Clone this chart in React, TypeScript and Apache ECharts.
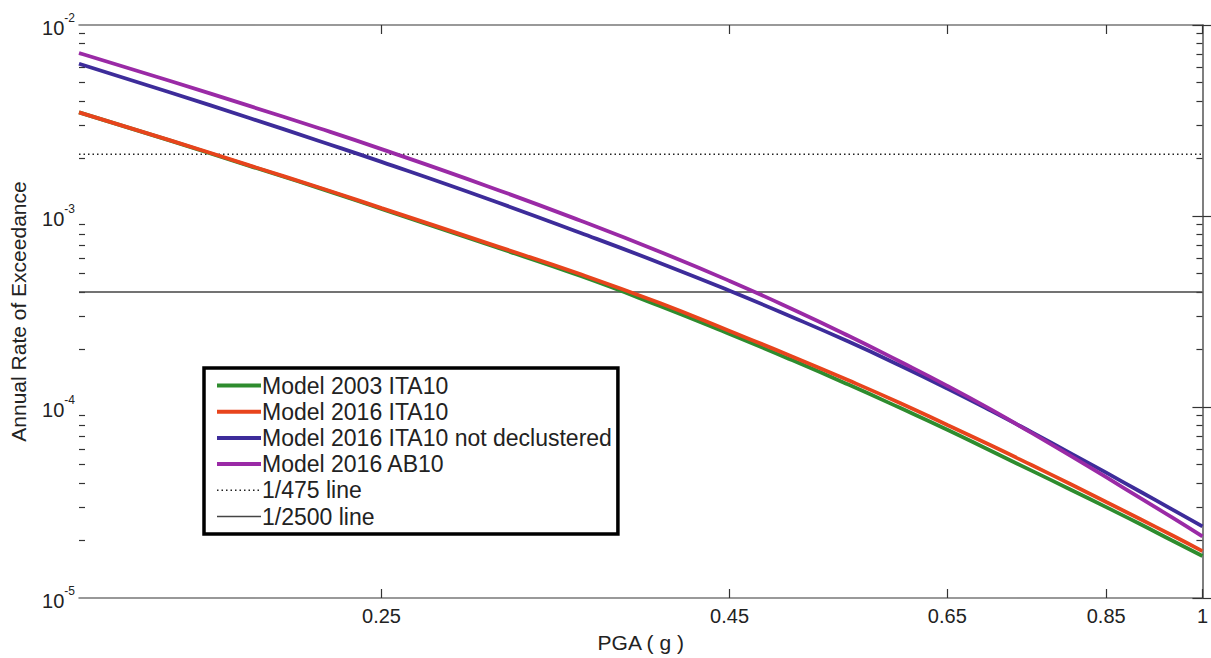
import React, { useEffect, useRef } from "react";
import * as echarts from "echarts";

// PGA values (g) at which the hazard curves are read
const pga = [0.15, 0.175, 0.2, 0.225, 0.25, 0.3, 0.35, 0.4, 0.45, 0.5, 0.55, 0.6, 0.65, 0.7, 0.75, 0.8, 0.85, 0.9, 0.95, 1.0];

const model2003ITA10 = [3.49e-3, 2.48e-3, 1.83e-3, 1.40e-3, 1.09e-3, 7.05e-4, 4.85e-4, 3.38e-4, 2.41e-4, 1.76e-4, 1.31e-4, 9.9e-5, 7.6e-5, 5.88e-5, 4.63e-5, 3.70e-5, 2.99e-5, 2.44e-5, 2.0e-5, 1.66e-5];
const model2016ITA10 = [3.49e-3, 2.49e-3, 1.84e-3, 1.41e-3, 1.10e-3, 7.15e-4, 4.95e-4, 3.50e-4, 2.50e-4, 1.84e-4, 1.38e-4, 1.05e-4, 8.05e-5, 6.28e-5, 4.95e-5, 3.95e-5, 3.18e-5, 2.59e-5, 2.13e-5, 1.76e-5];
const model2016ITA10NotDecl = [6.27e-3, 4.43e-3, 3.26e-3, 2.47e-3, 1.92e-3, 1.22e-3, 8.15e-4, 5.68e-4, 4.06e-4, 2.96e-4, 2.20e-4, 1.65e-4, 1.25e-4, 9.55e-5, 7.36e-5, 5.74e-5, 4.53e-5, 3.61e-5, 2.91e-5, 2.37e-5];
const model2016AB10 = [7.14e-3, 5.09e-3, 3.77e-3, 2.88e-3, 2.24e-3, 1.42e-3, 9.44e-4, 6.50e-4, 4.57e-4, 3.26e-4, 2.36e-4, 1.73e-4, 1.29e-4, 9.68e-5, 7.29e-5, 5.56e-5, 4.29e-5, 3.34e-5, 2.64e-5, 2.10e-5];

const rate475 = 1 / 475;
const rate2500 = 1 / 2500;

const xRange = [0.15, 1];
const yRange = [1e-5, 1e-2];
const xTickValues = [0.25, 0.45, 0.65, 0.85, 1];
const yDecades = [1e-5, 1e-4, 1e-3, 1e-2];
const yMinorFactors = [2, 3, 4, 5, 6, 7, 8, 9];

const seriesNames = [
  "Model 2003 ITA10",
  "Model 2016 ITA10",
  "Model 2016 ITA10 not declustered",
  "Model 2016 AB10",
  "1/475 line",
  "1/2500 line",
];
const seriesColors = ["#2e8c2e", "#e8441c", "#3d2c9a", "#9a2aa6", "#222", "#444"];

const FONT = "Liberation Sans";
const lg = Math.log10;

export default function App() {
  const ref = useRef<HTMLDivElement>(null);

  useEffect(() => {
    if (!ref.current) return;
    const chart = echarts.init(ref.current, undefined, { renderer: "svg" });

    const pts = (ys: number[]) => pga.map((x, i) => [lg(x), lg(ys[i])]);
    const hline = (v: number) => [
      [lg(xRange[0]), lg(v)],
      [lg(xRange[1]), lg(v)],
    ];

    const xMajor = xTickValues.map(lg);
    const yMajor = yDecades.map(lg);
    const yMinor: number[] = [];
    yDecades.slice(0, 3).forEach((d) => yMinorFactors.forEach((k) => yMinor.push(lg(k * d))));

    const frame = { show: true, lineStyle: { color: "#777", width: 1.5 } };
    const tickStyle = { color: "#333", width: 1.2 };

    const curve = (i: number, ys: number[], z: number) => ({
      name: seriesNames[i],
      type: "line",
      data: pts(ys),
      smooth: true,
      symbol: "none",
      z,
      lineStyle: { color: seriesColors[i], width: 3.8 },
      itemStyle: { color: seriesColors[i] },
    });

    const yAxisBase = {
      type: "value",
      min: lg(yRange[0]),
      max: lg(yRange[1]),
      splitLine: { show: false },
    };

    const option: any = {
      animation: false,
      backgroundColor: "#fff",
      grid: { left: 75, right: 8, top: 25, bottom: 53, containLabel: false },
      xAxis: [
        {
          type: "value",
          position: "bottom",
          min: lg(xRange[0]),
          max: lg(xRange[1]),
          axisLine: frame,
          splitLine: { show: false },
          axisTick: { show: true, inside: true, length: 9, customValues: xMajor, lineStyle: tickStyle },
          axisLabel: {
            customValues: xMajor,
            formatter: (v: number) => String(parseFloat(Math.pow(10, v).toFixed(2))),
            fontSize: 20,
            color: "#222",
            fontFamily: FONT,
            margin: 8,
          },
          name: "PGA ( g )",
          nameLocation: "middle",
          nameGap: 34,
          nameTextStyle: { fontSize: 21, color: "#222", fontFamily: FONT },
        },
        {
          type: "value",
          position: "top",
          min: lg(xRange[0]),
          max: lg(xRange[1]),
          axisLine: frame,
          splitLine: { show: false },
          axisTick: { show: true, inside: true, length: 9, customValues: xMajor, lineStyle: tickStyle },
          axisLabel: { show: false },
        },
      ],
      yAxis: [
        {
          ...yAxisBase,
          position: "left",
          axisLine: frame,
          axisTick: { show: true, inside: true, length: 10, customValues: yMajor, lineStyle: tickStyle },
          axisLabel: {
            customValues: yMajor,
            formatter: (v: number) => `{b|10}{s|${Math.round(v)}}`,
            margin: 4,
            rich: {
              b: { fontSize: 20, fontFamily: FONT, color: "#222", lineHeight: 26, verticalAlign: "bottom" },
              s: { fontSize: 12, fontFamily: FONT, color: "#222", lineHeight: 13, verticalAlign: "top" },
            },
          },
          name: "Annual Rate of Exceedance",
          nameLocation: "middle",
          nameGap: 50,
          nameTextStyle: { fontSize: 21, color: "#222", fontFamily: FONT },
        },
        {
          ...yAxisBase,
          position: "right",
          axisLine: frame,
          axisTick: { show: true, inside: true, length: 10, customValues: yMajor, lineStyle: tickStyle },
          axisLabel: { show: false },
        },
        {
          ...yAxisBase,
          position: "left",
          axisLine: { show: false },
          axisTick: { show: true, inside: true, length: 6, customValues: yMinor, lineStyle: tickStyle },
          axisLabel: { show: false },
        },
        {
          ...yAxisBase,
          position: "right",
          axisLine: { show: false },
          axisTick: { show: true, inside: true, length: 6, customValues: yMinor, lineStyle: tickStyle },
          axisLabel: { show: false },
        },
      ],
      legend: {
        data: seriesNames.map((name, i) => ({
          name,
          lineStyle: i < 4 ? { width: 4, color: seriesColors[i] } : { width: 1.5, color: seriesColors[i] },
        })),
        orient: "vertical",
        left: 204,
        top: 368,
        itemWidth: 44,
        itemHeight: 12,
        itemGap: 3.2,
        padding: [6, 6, 6, 11],
        borderColor: "#000",
        borderWidth: 3.5,
        backgroundColor: "#fff",
        itemStyle: { color: "rgba(0,0,0,0)", opacity: 0, borderWidth: 0 },
        textStyle: { fontSize: 23, lineHeight: 22, color: "#222", fontFamily: FONT, padding: [0, 0, 0, -4] },
      },
      series: [
        curve(0, model2003ITA10, 3),
        curve(1, model2016ITA10, 4),
        curve(2, model2016ITA10NotDecl, 5),
        curve(3, model2016AB10, 6),
        {
          name: seriesNames[4],
          type: "line",
          data: hline(rate475),
          symbol: "none",
          z: 2,
          lineStyle: { color: seriesColors[4], width: 1.3, type: [1.5, 3] },
          itemStyle: { color: seriesColors[4] },
        },
        {
          name: seriesNames[5],
          type: "line",
          data: hline(rate2500),
          symbol: "none",
          z: 2,
          lineStyle: { color: seriesColors[5], width: 1.6 },
          itemStyle: { color: seriesColors[5] },
        },
      ],
    };

    chart.setOption(option);
    return () => chart.dispose();
  }, []);

  return (
    <div
      ref={ref}
      style={{ position: "absolute", left: 0, top: 0, width: 1211, height: 658, background: "#fff" }}
    />
  );
}
